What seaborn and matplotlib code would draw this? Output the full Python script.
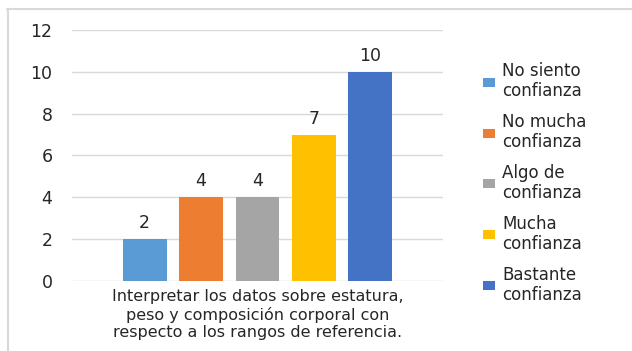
import matplotlib
matplotlib.use("Agg")
import matplotlib.pyplot as plt
import seaborn as sns
import pandas as pd
from matplotlib.lines import Line2D

category = "Interpretar los datos sobre estatura,\npeso y composición corporal con\nrespecto a los rangos de referencia."
levels = ["No siento\nconfianza", "No mucha\nconfianza", "Algo de\nconfianza", "Mucha\nconfianza", "Bastante\nconfianza"]
values = [2, 4, 4, 7, 10]
colors = ["#5B9BD5", "#ED7D31", "#A5A5A5", "#FFC000", "#4472C4"]
yticks = [0, 2, 4, 6, 8, 10, 12]

df = pd.DataFrame({"cat": [category] * len(levels), "nivel": levels, "valor": values})

sns.set_style("white")
plt.rcParams["font.family"] = ["DejaVu Sans"]

W, H = 632, 351
fig = plt.figure(figsize=(W / 100, H / 100), dpi=100)
fig.lines.append(Line2D([7 / W, 1], [1 - 8.5 / H, 1 - 8.5 / H], transform=fig.transFigure,
                        color="#D9D9D9", linewidth=1.5))
fig.lines.append(Line2D([7.5 / W, 7.5 / W], [0, 1 - 8.5 / H], transform=fig.transFigure,
                        color="#D9D9D9", linewidth=1.5))
ax = fig.add_axes([72 / W, 1 - 281 / H, (443 - 72) / W, (281 - 30) / H])

sns.barplot(data=df, x="cat", y="valor", hue="nivel", hue_order=levels,
            palette=colors, width=0.76, gap=0.22, ax=ax, legend=True,
            saturation=1, errorbar=None, linewidth=0)

for c in ax.containers:
    ax.bar_label(c, fontsize=12.5, padding=5, color="#262626")

ax.set_ylim(0, 12)
ax.set_yticks(yticks)
ax.set_xlim(-0.5, 0.5)
ax.set_xlabel("")
ax.set_ylabel("")
ax.grid(axis="y", color="#D9D9D9", linewidth=1)
ax.set_axisbelow(True)
for s in ax.spines.values():
    s.set_visible(False)
ax.tick_params(axis="y", length=0, pad=14, labelsize=12.5, labelcolor="#262626")
ax.tick_params(axis="x", length=0, pad=6, labelsize=11.5, labelcolor="#262626")
for t in ax.get_xticklabels():
    t.set_linespacing(1.2)

handles, labels = ax.get_legend_handles_labels()
ax.legend_.remove()
leg = fig.legend(handles, labels, loc="upper left", bbox_to_anchor=(483 / W, 1 - 62 / H),
                 frameon=False, fontsize=12, handlelength=0.7, handleheight=0.45,
                 handletextpad=0.45, labelspacing=0.77, borderaxespad=0, borderpad=0)
for t in leg.get_texts():
    t.set_linespacing(1.15)
    t.set_color("#262626")

fig.savefig("out.png", dpi=100)
